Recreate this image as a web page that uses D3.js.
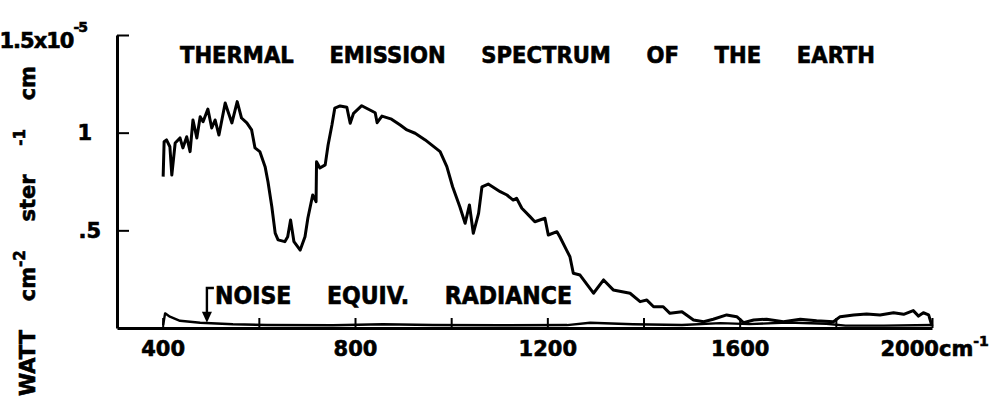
<!DOCTYPE html>
<html>
<head>
<meta charset="utf-8">
<script src="https://cdn.jsdelivr.net/npm/d3@7"></script>
<style>
body { margin: 0; background: #fff; }
text { font-family: "DejaVu Sans", sans-serif; font-weight: bold; fill: #000; stroke: #000; stroke-width: 0.6px; }
</style>
</head>
<body>
<div class="container"></div>
<script>
// spectrum, wavenumber in cm-1, radiance in 1e-5 W cm-2 ster-1 cm
var wavenumber = [401,403,408,415,419,426,436,442,450,457,463,471,478,484,494,502,509,517,530,536,
    544,555,564,575,585,592,602,613,619,627,634,640,654,660,666,673,686,696,702,712,
    719,720,727,738,744,752,758,769,783,790,797,814,842,846,856,876,894,908,925,946,
    977,991,1003,1018,1029,1038,1046,1057,1064,1077,1102,1116,1129,1136,1147,1164,1174,1195,1202,1220,
    1226,1240,1247,1254,1268,1296,1317,1337,1372,1393,1407,1421,1441,1455,1480,1504,1525,1545,1573,1594,
    1608,1629,1656,1691,1726,1760,1795,1809,1837,1864,1892,1920,1941,1961,1972,1982,1993,2000];
var radiance = [.775,.954,.963,.928,.783,.947,.973,.922,.979,.903,1.065,.973,1.082,1.056,1.121,1.024,1.065,.988,1.152,1.107,
    1.050,1.159,1.075,1.050,1.014,.922,.903,.826,.749,.621,.486,.451,.442,.467,.553,.442,.399,.467,.563,.681,
    .647,.851,.819,.835,.937,1.039,1.126,1.137,1.130,1.048,1.099,1.138,1.102,1.051,1.085,1.069,1.039,1.014,.997,.963,
    .903,.826,.723,.621,.536,.630,.485,.587,.723,.737,.698,.681,.655,.664,.613,.570,.544,.562,.476,.493,
    .467,.399,.365,.280,.271,.178,.246,.195,.178,.135,.143,.109,.109,.075,.083,.041,.032,.045,.067,.058,
    .027,.041,.045,.032,.045,.037,.032,.058,.067,.072,.067,.078,.070,.089,.061,.078,.067,.010];

var noiseWavenumber = [401,405,415,436,478,546,617,754,858,962,1102,1241,1289,1378,1480,1560,1620,1700,1780,1820,1900,2000];
var noiseRadiance = [.015,.075,.058,.037,.027,.019,.015,.014,.019,.015,.014,.015,.027,.019,.015,.025,.020,.028,.022,.012,.012,.015];

var xTicks = [400,600,800,1000,1200,1400,1600,1800,2000];
var xLabels = ["400","","800","","1200","","1600","","2000"];
var yTicks = [0.5,1,1.5];
var yLabels = [".5","1","1.5x10"];
var title = "THERMAL EMISSION SPECTRUM OF THE EARTH";
var noiseLabel = "NOISE EQUIV. RADIANCE";
var noiseArrowAt = 492;

const WIDTH = 1001;
const HEIGHT = 401;

var svg = d3.select('.container').append('svg')
    .attr('width', WIDTH)
    .attr('height', HEIGHT);

var xScale = d3.scaleLinear().domain([305, 2000]).range([117, 932]);
var yScale = d3.scaleLinear().domain([0, 1.5]).range([328, 35]);

// spread words of a text over a given width
var spreadWords = function (sel, width) {
    var natural = sel.node().getComputedTextLength();
    var gaps = sel.text().split(' ').length - 1;
    sel.style('word-spacing', ((width - natural) / gaps) + 'px');
};

var line = d3.line()
    .x(function (d) { return xScale(d[0]); })
    .y(function (d) { return yScale(d[1]); });

svg.append('path')
    .attr('d', line(d3.zip(noiseWavenumber, noiseRadiance)))
    .attr('fill', 'none')
    .attr('stroke', '#000')
    .attr('stroke-width', 2.4)
    .attr('stroke-linejoin', 'round');

svg.append('path')
    .attr('d', line(d3.zip(wavenumber, radiance)))
    .attr('fill', 'none')
    .attr('stroke', '#000')
    .attr('stroke-width', 3)
    .attr('stroke-linejoin', 'round');

// axes
var xAxis = d3.axisBottom(xScale)
    .tickValues(xTicks)
    .tickSizeInner(-10)
    .tickSizeOuter(0)
    .tickFormat(function (d, i) { return xLabels[i]; });

var gx = svg.append('g')
    .attr('transform', 'translate(0,' + yScale(0) + ')')
    .call(xAxis);
gx.select('.domain').attr('stroke-width', 3);
gx.selectAll('.tick line').attr('stroke-width', 2);
gx.selectAll('.tick text')
    .attr('y', 28).attr('dy', 0)
    .style('font-size', '21px')
    .style('font-family', '"DejaVu Sans", sans-serif');
gx.selectAll('.tick text').filter(function (d) { return d == 2000; })
    .attr('text-anchor', 'start')
    .attr('x', -52)
    .call(function (t) {
        t.append('tspan').text('cm');
        t.append('tspan').attr('dy', -10).style('font-size', '14px').text('-1');
    });

var yAxis = d3.axisLeft(yScale)
    .tickValues(yTicks)
    .tickSizeInner(-12)
    .tickSizeOuter(0)
    .tickFormat(function (d, i) { return yLabels[i]; });

var gy = svg.append('g')
    .attr('transform', 'translate(' + xScale(305) + ',0)')
    .call(yAxis);
gy.select('.domain').attr('stroke-width', 3);
gy.selectAll('.tick line').attr('stroke-width', 2);
gy.selectAll('.tick text')
    .attr('x', -16)
    .style('font-size', '21px')
    .style('font-family', '"DejaVu Sans", sans-serif');
gy.selectAll('.tick text').filter(function (d) { return d == 1; }).attr('x', -25);
gy.selectAll('.tick text').filter(function (d) { return d == 1.5; })
    .attr('x', -30)
    .attr('dy', '0.6em')
    .style('letter-spacing', '-1px')
    .call(function (t) {
        t.append('tspan').attr('dy', -16).style('font-size', '14px').text('-5');
    });

// title
var titleText = svg.append('text')
    .attr('x', 180)
    .attr('y', 63)
    .style('font-size', '23.5px')
    .style('font-family', '"DejaVu Sans Condensed", "DejaVu Sans", sans-serif')
    .text(title);
spreadWords(titleText, 695);

// noise label and arrow
var noiseText = svg.append('text')
    .attr('x', 215)
    .attr('y', 304)
    .style('font-size', '24.5px')
    .style('font-family', '"DejaVu Sans Condensed", "DejaVu Sans", sans-serif')
    .text(noiseLabel);
spreadWords(noiseText, 357);

var ax = xScale(noiseArrowAt);
svg.append('path')
    .attr('d', 'M' + (ax + 7) + ',' + yScale(0.205) + 'H' + ax + 'V' + (yScale(0.027) - 9))
    .attr('fill', 'none')
    .attr('stroke', '#000')
    .attr('stroke-width', 2.4);
svg.append('path')
    .attr('d', 'M' + (ax - 5) + ',' + (yScale(0.027) - 11) + 'L' + (ax + 5) + ',' + (yScale(0.027) - 11) + 'L' + ax + ',' + yScale(0.027) + 'Z')
    .attr('fill', '#000');

// rotated y label
var yLabel = svg.append('text')
    .attr('transform', 'translate(35,396) rotate(-90)')
    .style('font-size', '21px');
yLabel.append('tspan').text('WATT ');
yLabel.append('tspan').text('cm');
yLabel.append('tspan').attr('dy', -10).style('font-size', '15px').text('-2');
yLabel.append('tspan').attr('dy', 10).text(' ster ');
yLabel.append('tspan').attr('dy', -10).style('font-size', '15px').text('-1');
yLabel.append('tspan').attr('dy', 10).text(' cm');
spreadWords(yLabel, 330);
</script>
</body>
</html>
